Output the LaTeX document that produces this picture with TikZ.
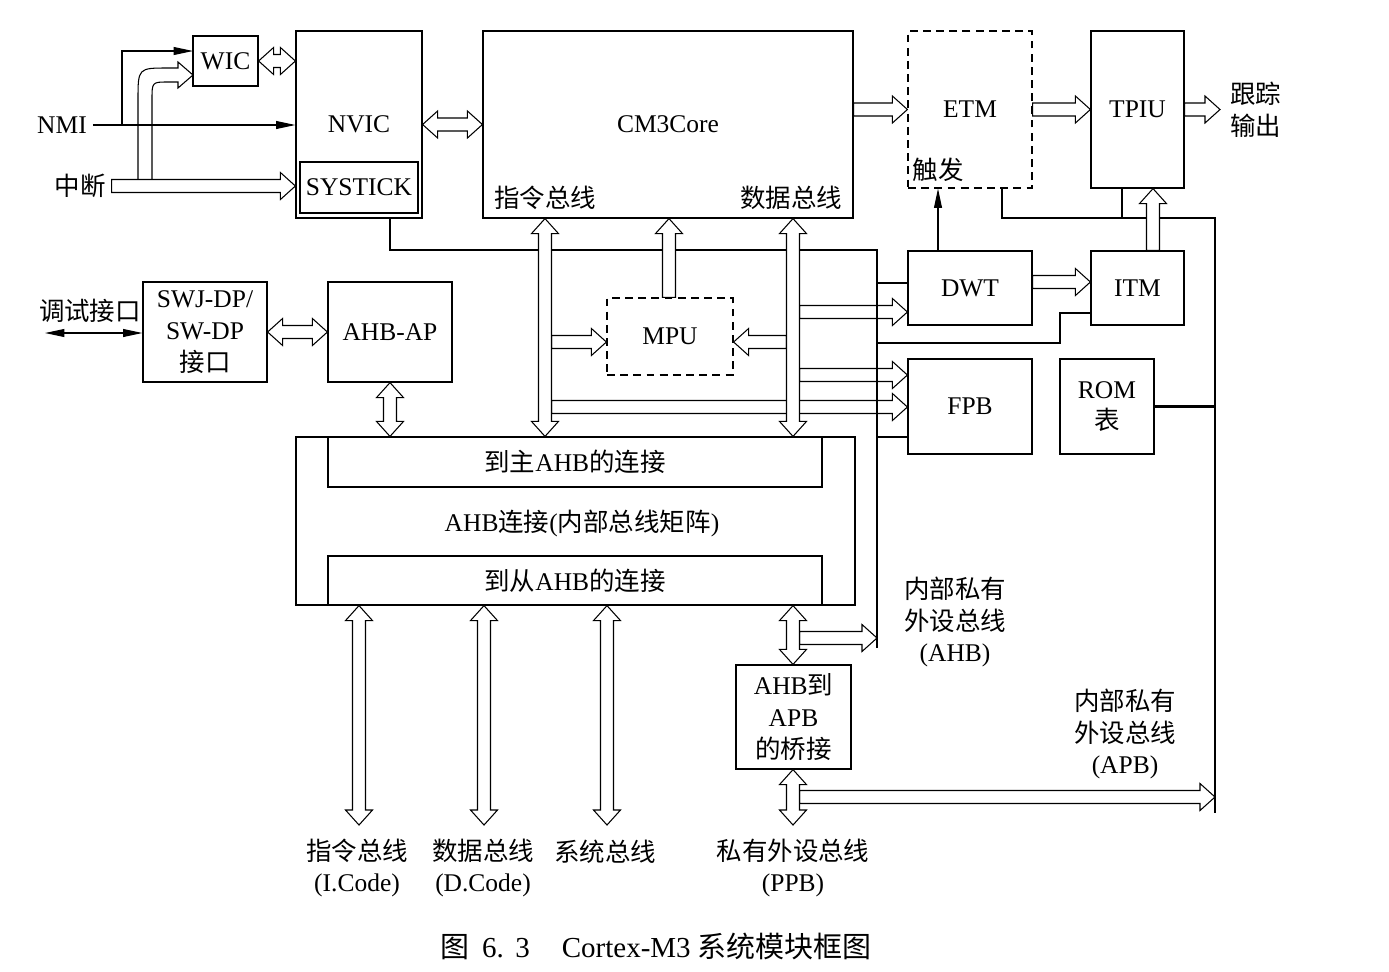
\documentclass[tikz,border=0pt]{standalone}
\usepackage{fontspec}
\setmainfont{Liberation Serif}
\newfontfamily\cjk{Noto Sans CJK SC}
\usetikzlibrary{calc,arrows.meta}
\newcommand\zh[1]{{\cjk #1}}
\def\hw{0.13cm}
\def\hh{0.27cm}
\def\hl{0.3cm}
% single-headed hollow arrow from #1 to #2
\newcommand\fatone[2]{%
 \coordinate (fa1) at #1; \coordinate (fa2) at #2;
 \coordinate (fac) at ($(fa2)!\hl!(fa1)$);
 \draw[fat] ($(fa1)!\hw!90:(fa2)$) -- ($(fac)!\hw!-90:(fa1)$) -- ($(fac)!\hh!-90:(fa1)$) -- (fa2)
   -- ($(fac)!\hh!90:(fa1)$) -- ($(fac)!\hw!90:(fa1)$) -- ($(fa1)!\hw!-90:(fa2)$) -- cycle;}
% double-headed hollow arrow
\newcommand\fattwo[2]{%
 \coordinate (fa1) at #1; \coordinate (fa2) at #2;
 \coordinate (fac) at ($(fa2)!\hl!(fa1)$);
 \coordinate (fad) at ($(fa1)!\hl!(fa2)$);
 \draw[fat] ($(fad)!\hw!90:(fa2)$) -- ($(fac)!\hw!-90:(fa1)$) -- ($(fac)!\hh!-90:(fa1)$) -- (fa2)
   -- ($(fac)!\hh!90:(fa1)$) -- ($(fac)!\hw!90:(fa1)$) -- ($(fad)!\hw!-90:(fa2)$)
   -- ($(fad)!\hh!-90:(fa2)$) -- (fa1) -- ($(fad)!\hh!90:(fa2)$) -- cycle;}
\begin{document}
\begin{tikzpicture}[x=0.02cm,y=-0.02cm,
  every node/.style={font=\fontsize{14.5}{18}\selectfont},
  box/.style={draw, line width=0.7pt, inner sep=0pt, align=center},
  dbox/.style={box, dash pattern=on 4.5pt off 3pt},
  fat/.style={draw, line width=0.6pt, fill=white, line join=miter},
  bus/.style={draw, line width=1.6pt},
  arr/.style={line width=0.6pt, -{Triangle[length=11pt,width=4.5pt]}},
  darr/.style={line width=0.6pt, {Triangle[length=11pt,width=4.5pt]}-{Triangle[length=11pt,width=4.5pt]}}]
\fill[white] (0,0) rectangle (1389,971);
\useasboundingbox (0,0) rectangle (1389,971);

% ---------- boxes ----------
\node[box, minimum width=1.3cm, minimum height=1cm] (wic) at (225.5,61) {WIC};
\node[box, minimum width=2.52cm, minimum height=3.74cm] (nvic) at (359,124.5) {NVIC};
\node[box, minimum width=2.36cm, minimum height=1.02cm] (systick) at (359,187.5) {SYSTICK};
\node[box, minimum width=7.4cm, minimum height=3.74cm] (core) at (668,124.5) {CM3Core};
\node[dbox, minimum width=2.48cm, minimum height=3.14cm] (etm) at (970,109.5) {ETM};
\node[box, minimum width=1.86cm, minimum height=3.14cm] (tpiu) at (1137.5,109.5) {TPIU};
\node[box, minimum width=2.48cm, minimum height=1.48cm] (dwt) at (970,288) {DWT};
\node[box, minimum width=1.86cm, minimum height=1.48cm] (itm) at (1137.5,288) {ITM};
\node[box, minimum width=2.48cm, minimum height=1.9cm] (fpb) at (970,406.5) {FPB};
\node[box, minimum width=1.88cm, minimum height=1.9cm] (rom) at (1107,406.5) {ROM\\\zh{表}};
\node[dbox, minimum width=2.52cm, minimum height=1.54cm] (mpu) at (670,336.5) {MPU};
\node[box, minimum width=2.48cm, minimum height=2cm] (swj) at (205,332) {SWJ-DP/\\SW-DP\\\zh{接口}};
\node[box, minimum width=2.48cm, minimum height=2cm] (ahbap) at (390,332) {AHB-AP};
\node[box, minimum width=11.18cm, minimum height=3.36cm] (matrix) at (575.5,521) {};
\node[box, minimum width=9.88cm, minimum height=1cm] (master) at (575,462) {\zh{到主}AHB\zh{的连接}};
\node[box, minimum width=9.88cm, minimum height=0.98cm] (slave) at (575,580.5) {\zh{到从}AHB\zh{的连接}};
\node[box, minimum width=2.3cm, minimum height=2.08cm] (bridge) at (793.5,717) {AHB\zh{到}\\APB\\\zh{的桥接}};

% ---------- labels ----------
\node (mtxlab) at (582,523) {AHB\zh{连接}(\zh{内部总线矩阵})};
\node (ilab) at (545,198) {\zh{指令总线}};
\node (dlab) at (791,198) {\zh{数据总线}};
\node (trig) at (938,170) {\zh{触发}};
\node[align=left, anchor=west] (trace) at (1224,110) {\zh{跟踪}\\\zh{输出}};
\node (nmi) at (62,125) {NMI};
\node (irq) at (80,186) {\zh{中断}};
\node (dbg) at (90,311) {\zh{调试接口}};
\node[align=center] (lb1) at (357,868) {\zh{指令总线}\\(I.Code)};
\node[align=center] (lb2) at (483,868) {\zh{数据总线}\\(D.Code)};
\node (lb3) at (605,852) {\zh{系统总线}};
\node[align=center] (lb4) at (793,868) {\zh{私有外设总线}\\(PPB)};
\node[align=center] (lahb) at (955,622) {\zh{内部私有}\\\zh{外设总线}\\(AHB)};
\node[align=center] (lapb) at (1125,734) {\zh{内部私有}\\\zh{外设总线}\\(APB)};
\node[font=\fontsize{16.5}{20}\selectfont] (cap) at (656,946)
  {\zh{图}\hspace{0.45em}6.\hspace{0.4em}3\hspace{1.1em}Cortex-M3 \zh{系统模块框图}};

% ---------- helper coordinates ----------
\coordinate (xn) at (390,0);
\coordinate (c250) at (877,250);
\coordinate (busend) at (877,648);
\coordinate (b283) at (877,283);
\coordinate (b343) at (877,343);
\coordinate (k1) at (1060,343);
\coordinate (k2) at (1060,313);
\coordinate (b437) at (877,437);
\coordinate (xe) at (1002,0);
\coordinate (xt) at (1122,0);
\coordinate (r218) at (1215,218);
\coordinate (rend) at (1215,813);
\coordinate (xI) at (545,0);
\coordinate (xD) at (793,0);
\coordinate (xM) at (669,0);
\coordinate (iR) at (551.5,0);
\coordinate (dL) at (786.5,0);
\coordinate (dR) at (799.5,0);
\coordinate (yM) at (0,342);
\coordinate (y312) at (0,312);
\coordinate (y375) at (0,375);
\coordinate (y407) at (0,407);
\coordinate (y282) at (0,282);
\coordinate (y638) at (0,638);
\coordinate (y797) at (0,797);
\coordinate (yb) at (0,825);
\coordinate (xb1) at (359,0);
\coordinate (xb2) at (484,0);
\coordinate (xb3) at (607,0);
\coordinate (xtrig) at (938,0);
\coordinate (xitm) at (1153,0);
\coordinate (wicin) at (193,51);
\coordinate (nb) at (122,125);
\coordinate (dbgL) at (45,333);
\coordinate (tout) at (1220,109.5);

% ---------- private peripheral bus lines ----------
\draw[bus] (nvic.south -| xn) |- (c250) -- (busend);
\draw[bus] (b283) -- (b283 -| dwt.west);
\draw[bus] (b343) -- (k1) -- (k2) -- (k2 -| itm.west);
\draw[bus] (b437) -- (b437 -| fpb.west);
\draw[bus] (etm.south -| xe) |- (r218) -- (rend);
\draw[bus] (tpiu.south -| xt) -- (xt |- r218);
\draw[bus] (rom.east) -- (rom.east -| rend);

% ---------- left side ----------
\draw[fat] (138,179) -- (138,100) .. controls (138,68) .. (168,68) -- (178,68) -- (178,62) -- (193,75)
   -- (178,88) -- (178,82) -- (168,82) .. controls (152,82) .. (152,100) -- (152,179);
\fatone{(irq.east)}{(irq.east -| nvic.west)}
\draw[arr] (nmi.east) -- (nmi.east -| nvic.west);
\draw[arr] (nb) |- (wicin);
\fattwo{(wic.east)}{(wic.east -| nvic.west)}
\fattwo{(nvic.east)}{(core.west |- nvic.east)}
\draw[darr] (dbgL) -- (dbgL -| swj.west);
\fattwo{(swj.east)}{(ahbap.west)}
\fattwo{(ahbap.south)}{(ahbap.south |- matrix.north)}

% ---------- trace ----------
\fatone{(core.east |- etm.west)}{(etm.west)}
\fatone{(etm.east)}{(tpiu.west)}
\fatone{(tpiu.east)}{(tout)}
\draw[arr] (dwt.north -| xtrig) -- (etm.south -| xtrig);
\fatone{(dwt.east |- y282)}{(itm.west |- y282)}
\fatone{(itm.north -| xitm)}{(tpiu.south -| xitm)}

% ---------- core buses ----------
\fatone{(iR |- yM)}{(mpu.west |- yM)}
\fatone{(dL |- yM)}{(mpu.east |- yM)}
\fatone{(dR |- y312)}{(dwt.west |- y312)}
\fatone{(dR |- y375)}{(fpb.west |- y375)}
\fatone{(iR |- y407)}{(fpb.west |- y407)}
\fatone{(mpu.north -| xM)}{(core.south -| xM)}
\fattwo{(core.south -| xI)}{(master.north -| xI)}
\fattwo{(core.south -| xD)}{(master.north -| xD)}
\draw[bus] (c250) -- (busend);

% ---------- bottom buses ----------
\fattwo{(matrix.south -| xb1)}{(xb1 |- yb)}
\fattwo{(matrix.south -| xb2)}{(xb2 |- yb)}
\fattwo{(matrix.south -| xb3)}{(xb3 |- yb)}
\fatone{(dR |- y638)}{(busend |- y638)}
\fatone{(dR |- y797)}{(rend |- y797)}
\fattwo{(matrix.south -| xD)}{(bridge.north -| xD)}
\fattwo{(bridge.south -| xD)}{(xD |- yb)}
\end{tikzpicture}
\end{document}
